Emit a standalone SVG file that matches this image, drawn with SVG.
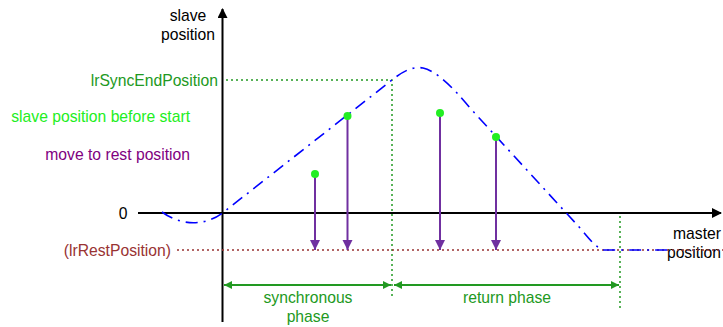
<svg xmlns="http://www.w3.org/2000/svg" width="723" height="327" viewBox="0 0 723 327">
<style>
text{font-family:"Liberation Sans",Arial,sans-serif;font-size:15.7px}
.axis{stroke:#000;stroke-width:2;fill:none}
.gdot{stroke:#229922;stroke-width:1.5;stroke-dasharray:2,3;fill:none}
.rdot{stroke:#993333;stroke-width:1.5;stroke-dasharray:2,3;fill:none}
.curve{stroke:#0000ff;stroke-width:1.6;fill:none;stroke-dasharray:12,6,2,6}
.parr{stroke:#7030a0;stroke-width:2;fill:none}
.dim{stroke:#229922;stroke-width:2;fill:none}
.pt{fill:#22ee22}
</style>
<defs>
<marker id="ah" viewBox="0 0 10 10" refX="9" refY="5" markerWidth="10" markerHeight="10" markerUnits="userSpaceOnUse" orient="auto"><path d="M0,0L10,5L0,10z" fill="#000"/></marker>
<marker id="pa" viewBox="0 0 10 10" refX="10" refY="5" markerWidth="10" markerHeight="11" markerUnits="userSpaceOnUse" orient="auto"><path d="M0,0L10,5L0,10z" fill="#7030a0"/></marker>
<marker id="ga" viewBox="0 0 10 10" refX="10" refY="5" markerWidth="8" markerHeight="8" markerUnits="userSpaceOnUse" orient="auto-start-reverse"><path d="M0,0L10,5L0,10z" fill="#229922"/></marker>
</defs>
<g id="axes">
<line class="axis" x1="222.5" y1="322" x2="222.5" y2="9" marker-end="url(#ah)"/>
<line class="axis" x1="138" y1="213" x2="721" y2="213" marker-end="url(#ah)"/>
<text x="188" y="21" text-anchor="middle">slave</text>
<text x="188" y="40" text-anchor="middle">position</text>
<text x="721" y="239" text-anchor="end">master</text>
<text x="721" y="258" text-anchor="end">position</text>
<text x="123" y="218.5" text-anchor="middle" fill="#000">0</text>
</g>
<g id="labels">
<text x="218" y="85.5" text-anchor="end" fill="#229922">lrSyncEndPosition</text>
<text x="190" y="121.5" text-anchor="end" fill="#22ee22">slave position before start</text>
<text x="190" y="159.5" text-anchor="end" fill="#800080">move to rest position</text>
<text x="171" y="255.5" text-anchor="end" fill="#993333">(lrRestPosition)</text>
</g>
<g id="guides">
<path class="gdot" d="M226,80H392V298"/>
<line class="gdot" x1="620" y1="216" x2="620" y2="310"/>
<line class="rdot" x1="177" y1="250" x2="723" y2="250"/>
</g>
<g id="curve">
<path class="curve" d="M162,212C178,224 202,228 222.5,213L392,80C402,72 412,66 423,68C436,71 452,86 470,108L580,228C590,240 597,249 605,250L668,250"/>
</g>
<g id="connectors">
<line class="parr" x1="315" y1="174" x2="315" y2="250" marker-end="url(#pa)"/>
<line class="parr" x1="347.5" y1="116" x2="347.5" y2="250" marker-end="url(#pa)"/>
<line class="parr" x1="440" y1="113" x2="440" y2="250" marker-end="url(#pa)"/>
<line class="parr" x1="496" y1="137" x2="496" y2="250" marker-end="url(#pa)"/>
<line class="dim" x1="224" y1="285" x2="391" y2="285" marker-start="url(#ga)" marker-end="url(#ga)"/>
<line class="dim" x1="394" y1="285" x2="619" y2="285" marker-start="url(#ga)" marker-end="url(#ga)"/>
</g>
<g id="points">
<circle class="pt" cx="315" cy="174" r="4"/>
<circle class="pt" cx="347.5" cy="116" r="4"/>
<circle class="pt" cx="440" cy="113" r="4"/>
<circle class="pt" cx="496" cy="137" r="4"/>
</g>
<g id="phases">
<text x="308" y="302.5" text-anchor="middle" fill="#229922">synchronous</text>
<text x="308" y="321.5" text-anchor="middle" fill="#229922">phase</text>
<text x="507" y="302.5" text-anchor="middle" fill="#229922">return phase</text>
</g>
</svg>
